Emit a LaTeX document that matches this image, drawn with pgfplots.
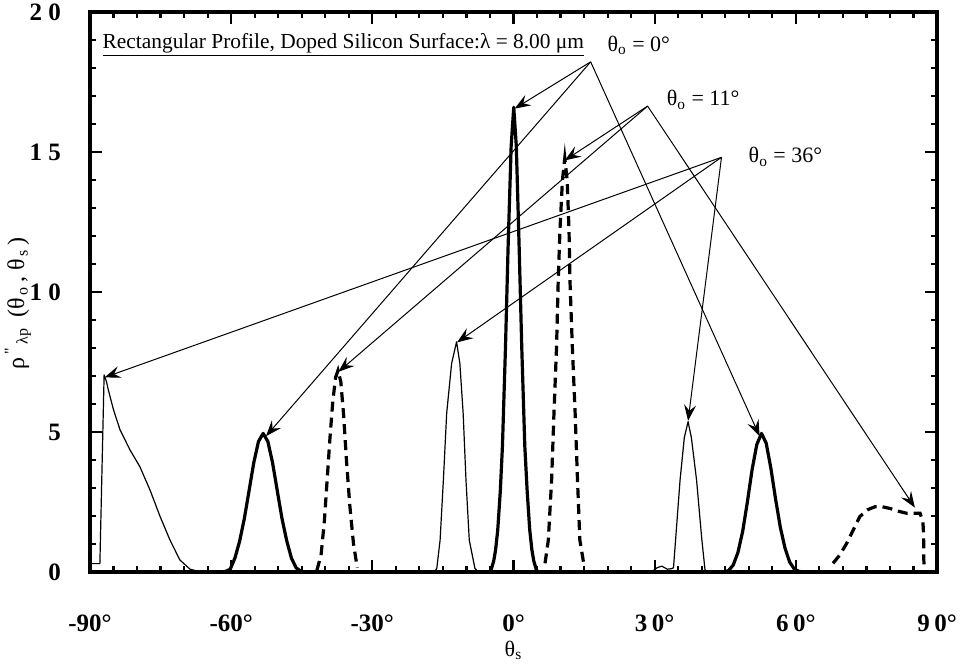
\documentclass[border=0pt]{standalone}
\usepackage{fontspec}
\setmainfont{Liberation Serif}
\usepackage{pgfplots}
\usepackage{pgfplotstable}
\pgfplotsset{compat=1.18}
\usetikzlibrary{arrows.meta}

% theta_o = 0 deg (thick solid)
\pgfplotstableread{
x y
-62.2 0
-61.2 0.02
-60.2 0.10
-59.2 0.50
-58.2 1.10
-57.2 1.91
-56.2 2.90
-55.2 3.90
-54.2 4.66
-53.2 4.95
-52.2 4.66
-51.2 3.90
-50.2 2.90
-49.2 1.91
-48.2 1.12
-47.2 0.50
-46.2 0.15
-45.2 0.03
-44.2 0
nan nan
-5.4 0
-4.8 0.05
-4.2 0.40
-3.8 0.80
-3.35 1.50
-2.8 2.90
-2.35 4.50
-1.7 8.05
-1.15 11.60
-0.5 15.20
0.05 16.60
0.6 15.20
1.2 11.60
1.75 8.05
2.4 4.50
2.9 2.90
3.45 1.50
3.9 0.80
4.3 0.40
4.9 0.05
5.5 0
nan nan
44.7 0
45.7 0.05
46.7 0.25
47.7 0.70
48.7 1.45
49.7 2.50
50.7 3.65
51.7 4.55
52.7 4.95
53.7 4.60
54.7 3.70
55.7 2.60
56.7 1.60
57.7 0.85
58.7 0.35
59.7 0.10
60.7 0.02
61.7 0
}\thetazero

% theta_o = 11 deg (dashed)
\pgfplotstableread{
x y
-41.8 0.05
-40.9 0.60
-40.2 1.80
-39.6 3.30
-39.0 4.80
-38.4 6.10
-37.8 6.95
-37.3 7.20
-36.7 6.80
-36.1 5.60
-35.5 4.00
-34.8 2.40
-34.0 1.00
-33.2 0.15
nan nan
6.7 0.31
7.4 1.14
8.1 3.29
8.6 5.67
9.15 8.05
9.5 10.40
9.87 12.20
10.4 14.00
10.9 14.78
11.4 14.00
11.8 12.20
12.0 10.40
12.5 8.05
13.1 5.67
13.6 3.29
14.1 1.14
14.97 0.25
nan nan
67.9 0.31
69.3 0.60
70.8 1.02
72.2 1.50
73.6 1.98
75.2 2.22
76.8 2.33
78.4 2.33
80.0 2.27
81.8 2.17
83.5 2.10
85.0 2.10
86.4 2.10
87.0 1.80
87.1 1.50
87.2 0.90
87.2 0.43
87.3 0
}\thetaeleven

% theta_o = 36 deg (thin solid)
\pgfplotstableread{
x y
-89.6 0.30
-87.9 0.30
-87.0 7.04
-86.5 6.80
-86.1 6.50
-85.0 5.79
-83.6 5.07
-82.5 4.70
-81.5 4.36
-79.4 3.76
-77.25 2.93
-75.1 1.98
-73.0 1.14
-70.9 0.43
-68.75 0.10
-66.6 0.01
-65.0 0
nan nan
-16.8 0
-16.3 0.13
-15.6 1.14
-14.9 3.29
-14.2 5.67
-13.15 7.45
-12.1 8.22
-11.4 7.45
-10.7 5.67
-10.1 3.29
-9.4 1.14
-8.2 0.13
-7.5 0
nan nan
29.7 0.05
30.5 0.15
31.5 0.21
32.7 0.10
33.6 0.12
34.0 0.15
35.4 3.29
36.3 4.80
37.1 5.37
37.8 4.80
38.9 3.29
40.0 1.20
40.7 0.07
41.5 0
}\thetathirtysix

\begin{document}
\begin{tikzpicture}
\useasboundingbox (-45pt,-45.5pt) rectangle (435.5pt,286pt);
\begin{axis}[
  at={(0,0)}, anchor=south west,
  scale only axis,
  width=423.5pt, height=280pt,
  xmin=-90, xmax=90, ymin=0, ymax=20,
  clip=false,
  axis line style={line width=1.6pt},
  every tick/.style={line width=1.1pt, black},
  major tick length=6pt,
  minor tick length=3pt,
  tick align=inside,
  xtick={-90,-60,-30,0,30,60,90},
  xticklabels={-90°,-60°,-30°,0°,3\hspace{0.18em}0°,6\hspace{0.18em}0°,9\hspace{0.18em}0°},
  minor x tick num=5,
  ytick={0,5,10,15,20},
  yticklabels={0,5,1\hspace{0.25em}0,1\hspace{0.25em}5,2\hspace{0.25em}0},
  minor y tick num=4,
  tick label style={font=\bfseries\fontsize{12.5}{13}\selectfont},
  xticklabel style={yshift=-18pt},
  yticklabel style={xshift=-11pt},
  xlabel={θ\textsubscript{s}},
  xlabel style={at={(axis description cs:0.5,-0.123)}, anchor=north, inner sep=0pt, font=\fontsize{11}{13}\selectfont},
  ylabel={ρ\textsuperscript{\,\textquotedbl}\textsubscript{\,λp} \,(θ\textsubscript{\,o}\,, θ\textsubscript{\,s}\,)},
  ylabel style={at={(axis description cs:-0.085,0.48)}, anchor=center, font=\fontsize{12}{14}\selectfont},
  unbounded coords=jump,
]
\addplot[black, line width=1.6pt, line join=round] table {\thetazero};
\addplot[black, line width=1.6pt, dash pattern=on 5pt off 3pt] table {\thetaeleven};
\addplot[black, line width=0.6pt, line join=round] table {\thetathirtysix};

\node[anchor=base west, inner sep=0pt, font=\fontsize{10.7}{12}\selectfont] at (axis cs:-87.4,18.71)
  {\underline{Rectangular Profile, Doped Silicon Surface:λ = 8.00 μm}};

\node[anchor=west, inner sep=0pt, font=\fontsize{11}{13}\selectfont] at (axis cs:19.9,18.82) {θ\textsubscript{o} = 0°};
\node[anchor=west, inner sep=0pt, font=\fontsize{11}{13}\selectfont] at (axis cs:32.5,16.86) {θ\textsubscript{o} = 11°};
\node[anchor=west, inner sep=0pt, font=\fontsize{11}{13}\selectfont] at (axis cs:49.9,14.83) {θ\textsubscript{o} = 36°};

\begin{scope}[line width=0.5pt, -{Stealth[length=8pt, width=6pt, inset=3pt]}]
  \draw (axis cs:16.4,18.22) -- (axis cs:-52.6,4.85);
  \draw (axis cs:16.4,18.22) -- (axis cs:0.25,16.55);
  \draw (axis cs:16.4,18.22) -- (axis cs:52.3,4.85);
  \draw (axis cs:28.5,16.64) -- (axis cs:10.9,14.7);
  \draw (axis cs:28.5,16.64) -- (axis cs:-37.2,7.15);
  \draw (axis cs:28.5,16.64) -- (axis cs:85.3,2.3);
  \draw (axis cs:44.2,14.81) -- (axis cs:-86.9,6.95);
  \draw (axis cs:44.2,14.81) -- (axis cs:-12.0,8.2);
  \draw (axis cs:44.2,14.81) -- (axis cs:37.1,5.4);
\end{scope}
\end{axis}
\end{tikzpicture}
\end{document}
